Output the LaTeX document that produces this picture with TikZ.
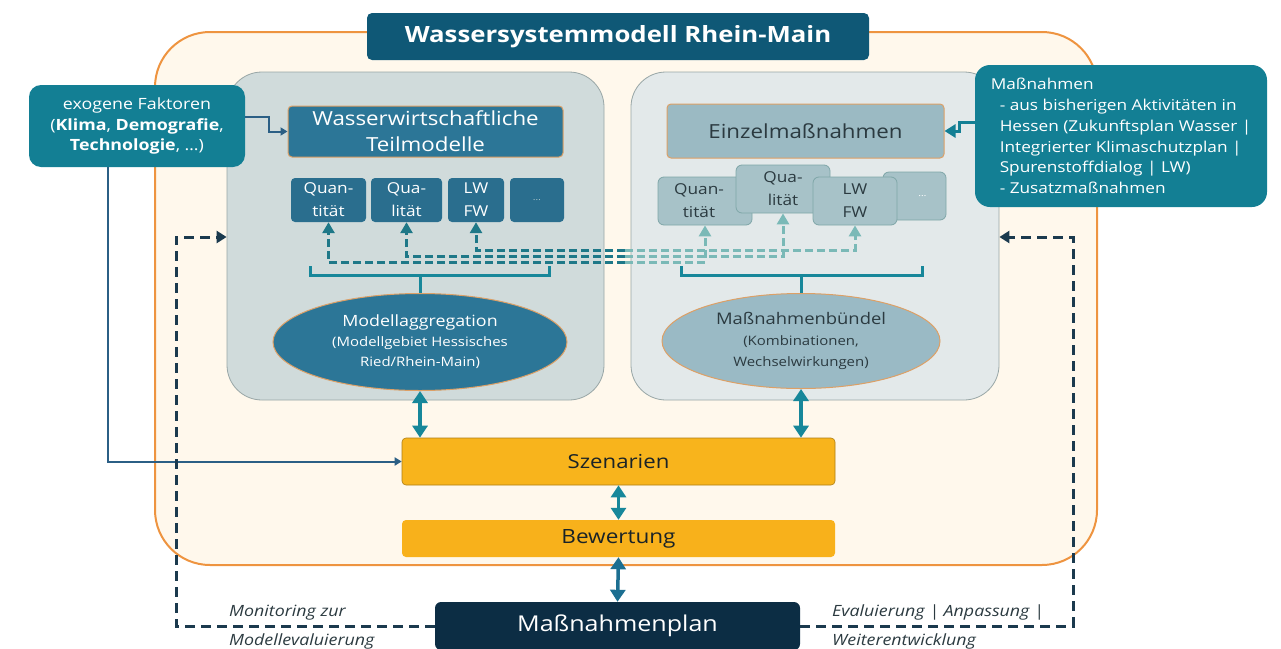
\documentclass[tikz,border=0pt]{standalone}
\usepackage{fontspec}
\setmainfont{Open Sans}[FakeStretch=1.15]
\usetikzlibrary{arrows.meta}
\usetikzlibrary{positioning}
\usetikzlibrary{shapes.geometric}

\definecolor{titleblue}{HTML}{0F5876}
\definecolor{tealbox}{HTML}{137F94}
\definecolor{steel}{HTML}{2C7697}
\definecolor{steeldark}{HTML}{2A6E8E}
\definecolor{lightbox}{HTML}{A7C2C8}
\definecolor{lightedge}{HTML}{7FA6A8}
\definecolor{panelL}{HTML}{D0DBDB}
\definecolor{panelR}{HTML}{E3E9EA}
\definecolor{paneledge}{HTML}{98A6A6}
\definecolor{cream}{HTML}{FFF8EC}
\definecolor{frameorange}{HTML}{EE9440}
\definecolor{thinorange}{HTML}{DDA066}
\definecolor{arrteal}{HTML}{17879A}
\definecolor{arrblue}{HTML}{1C6F91}
\definecolor{dashdark}{HTML}{1E7888}
\definecolor{dashlight}{HTML}{7AB9B7}
\definecolor{navy}{HTML}{1B3A4E}
\definecolor{planblue}{HTML}{0C2D44}
\definecolor{yellowbox}{HTML}{F8B41C}
\definecolor{darktext}{HTML}{2B3A40}
\definecolor{exoline}{HTML}{2B5F85}

\tikzset{box/.style = {rectangle, rounded corners=4pt, inner sep=0pt, align=center},
         panel/.style = {rectangle, rounded corners=35pt, draw=paneledge, line width=0.8pt},
         subL/.style = {box, fill=steeldark, text=white, minimum height=44pt,
                        font=\fontsize{15}{23}\selectfont},
         subR/.style = {box, rounded corners=6pt, fill=lightbox, draw=lightedge, line width=0.8pt,
                        text=darktext, minimum height=48pt, font=\fontsize{15}{23}\selectfont},
         dbl/.style = {{Triangle[width=15pt,length=12pt]}-{Triangle[width=15pt,length=12pt]},
                       line width=3.5pt},
         upL/.style = {-{Triangle[width=12pt,length=11pt]}, line width=3pt, dashdark,
                       dash pattern=on 8pt off 4pt},
         upR/.style = {-{Triangle[width=12pt,length=11pt]}, line width=3pt, dashlight,
                       dash pattern=on 8pt off 4pt},
         brk/.style = {line width=3pt, arrteal},
         fb/.style = {-{Triangle[width=12pt,length=10pt]}, line width=3pt, navy,
                      dash pattern=on 10pt off 6pt},
         fblabel/.style = {anchor=west, inner sep=0pt, text=darktext,
                           font=\fontsize{15.5}{17}\itshape}}

\begin{document}
\begin{tikzpicture}[x=1pt, y=-1pt]
  \useasboundingbox (0,0) rectangle (1281,648);
  % Rahmen
  \draw[fill=cream, draw=frameorange, line width=2pt, rounded corners=55pt] (155,32) rectangle (1097,565);

  \node[panel, fill=panelL, minimum width=377pt, minimum height=328pt] (leftpanel) at (415.5,236) {};
  \node[panel, fill=panelR, minimum width=368pt, minimum height=328pt] (rightpanel) at (815,236) {};

  \node[box, rounded corners=5pt, fill=titleblue, text=white, minimum width=502pt, minimum height=47pt,
        font=\fontsize{22.4}{26}\bfseries] (title) at (618,36.5) {Wassersystemmodell Rhein-Main};

  % aussen
  \node[box, rounded corners=12pt, fill=tealbox, text=white, minimum width=216pt, minimum height=82pt,
        font=\fontsize{15.5}{20.5}\selectfont] (exo) at (137,126)
        {exogene Faktoren\\(\textbf{Klima}, \textbf{Demografie},\\\textbf{Technologie}, …)};
  \node[box, rounded corners=15pt, fill=tealbox, text=white, align=left,
        minimum width=292pt, minimum height=142pt, font=\fontsize{15}{20.8}\selectfont] (mass) at (1121,136)
        {Maßnahmen\\
         \hspace*{9pt}- aus bisherigen Aktivitäten in\\
         \hspace*{9pt}Hessen (Zukunftsplan Wasser |\\
         \hspace*{9pt}Integrierter Klimaschutzplan |\\
         \hspace*{9pt}Spurenstoffdialog | LW)\\
         \hspace*{9pt}- Zusatzmaßnahmen};

  % links
  \node[box, fill=steel, draw=thinorange, line width=1pt, text=white, minimum width=275pt,
        minimum height=51pt, font=\fontsize{19.4}{26}\selectfont] (teil) at (425.5,131.5)
        {Wasserwirtschaftliche\\Teilmodelle};
  \node[subL, minimum width=75pt] (quanL) at (328.5,200) {Quan-\\tität};
  \node[subL, minimum width=71pt] (qualL) at (406.5,200) {Qua-\\lität};
  \node[subL, minimum width=56pt] (lwL) at (476,200) {LW\\FW};
  \node[subL, minimum width=54pt, text=lightbox, font=\fontsize{9}{9}\selectfont] (dotsL) at (537,200) {…};
  \node[ellipse, fill=steel, draw=thinorange, line width=1pt, text=white, inner sep=0pt, align=center,
        minimum width=294pt, minimum height=97pt, font=\fontsize{13}{20}\selectfont] (aggr) at (420,342)
        {{\fontsize{15.5}{20}\selectfont Modellaggregation}\\(Modellgebiet Hessisches\\Ried/Rhein-Main)};

  % rechts
  \node[box, fill=lightbox!90!steel, draw=thinorange, line width=1pt, text=darktext, minimum width=277pt,
        minimum height=54pt, font=\fontsize{19.4}{25}\selectfont] (einzel) at (805.5,131) {Einzelmaßnahmen};
  \node[subR, minimum width=63pt, text=white, font=\fontsize{9}{9}\selectfont] (dotsR) at (914.5,196) {\hspace*{16pt}…};
  \node[subR, minimum width=94pt] (quanR) at (705,201) {Quan-\hspace*{12pt}\\tität\hspace*{12pt}};
  \node[subR, minimum width=94pt] (qualR) at (783,189) {Qua-\\lität};
  \node[subR, minimum width=84pt] (lwR) at (855,201) {LW\\FW};
  \node[ellipse, fill=lightbox!80!steel!90!white, draw=thinorange, line width=1pt, text=darktext,
        inner sep=0pt, align=center, minimum width=278pt, minimum height=95pt,
        font=\fontsize{13}{21}\selectfont] (buendel) at (801,341)
        {{\fontsize{16}{21}\selectfont Maßnahmenbündel}\\(Kombinationen,\\Wechselwirkungen)};

  % unten
  \node[box, fill=yellowbox, draw=yellowbox!70!black, line width=0.6pt, text=darktext!60!black,
        minimum width=433pt, minimum height=47pt, font=\fontsize{19.3}{24}\selectfont] (szen) at (618.5,461.5) {Szenarien};
  \node[box, fill=yellowbox!95!orange, text=darktext!60!black, minimum width=433pt, minimum height=37pt,
        font=\fontsize{19.6}{24}\selectfont] (bew) at (618.5,538.5) {Bewertung};
  \node[box, rounded corners=6pt, fill=planblue, text=white, minimum width=365pt, minimum height=48pt,
        font=\fontsize{21.8}{26}\selectfont] (plan) at (617.5,626) {Maßnahmenplan};

  % Klammern
  \coordinate (brL) at (420,275);
  \coordinate (brR) at (801,275);
  \draw[brk] (aggr.north) -- (brL);
  \draw[brk] (310,266) |- (brL) -| (549,266);
  \draw[brk] (buendel.north) -- (brR);
  \draw[brk] (681,266) |- (brR) -| (922,266);

  % Querbezuege
  \coordinate (mQuan) at (625,262);
  \coordinate (mQual) at (625,256);
  \coordinate (mLw) at (625,250);
  \draw[upR] (mQuan) -| (quanR.south);
  \draw[upR] (mQual) -| (qualR.south);
  \draw[upR] (mLw) -| (lwR.south);
  \draw[upL] (mQuan) -| (quanL.south);
  \draw[upL] (mQual) -| (qualL.south);
  \draw[upL] (mLw) -| (lwL.south);

  % Zufluesse
  \draw[-{Triangle[width=8pt,length=7pt]}, line width=2pt, exoline]
    ([yshift=9pt]exo.east) -- ++(24,0) |- (teil.west);
  \draw[-{Triangle[width=8pt,length=7pt]}, line width=2pt, exoline]
    ([xshift=-29pt]exo.south) |- (szen.west);
  \draw[-{Triangle[width=13pt,length=11pt]}, line width=3pt, tealbox]
    ([yshift=14pt]mass.west) -- ++(-15,0) |- (einzel.east);

  % Doppelpfeile
  \draw[dbl, arrteal] (aggr.south) -- (aggr.south |- szen.north);
  \draw[dbl, arrteal] (buendel.south) -- (buendel.south |- szen.north);
  \draw[dbl, arrteal] (szen.south) -- (bew.north);
  \draw[dbl, arrblue] (bew.south) -- (plan.north);

  % Rueckkopplung
  \coordinate (fbL) at (176,237);
  \coordinate (fbR) at (1073,237);
  \draw[fb] (plan.west) -| (fbL) -- (fbL -| leftpanel.west);
  \draw[fb] (plan.east) -| (fbR) -- (fbR -| rightpanel.east);
  \node[fblabel] (monA) at (229,613) {Monitoring zur};
  \node[fblabel] (monB) at (229,641) {Modellevaluierung};
  \node[fblabel] (evaA) at (832,612) {Evaluierung | Anpassung |};
  \node[fblabel] (evaB) at (832,641) {Weiterentwicklung};
\end{tikzpicture}
\end{document}
